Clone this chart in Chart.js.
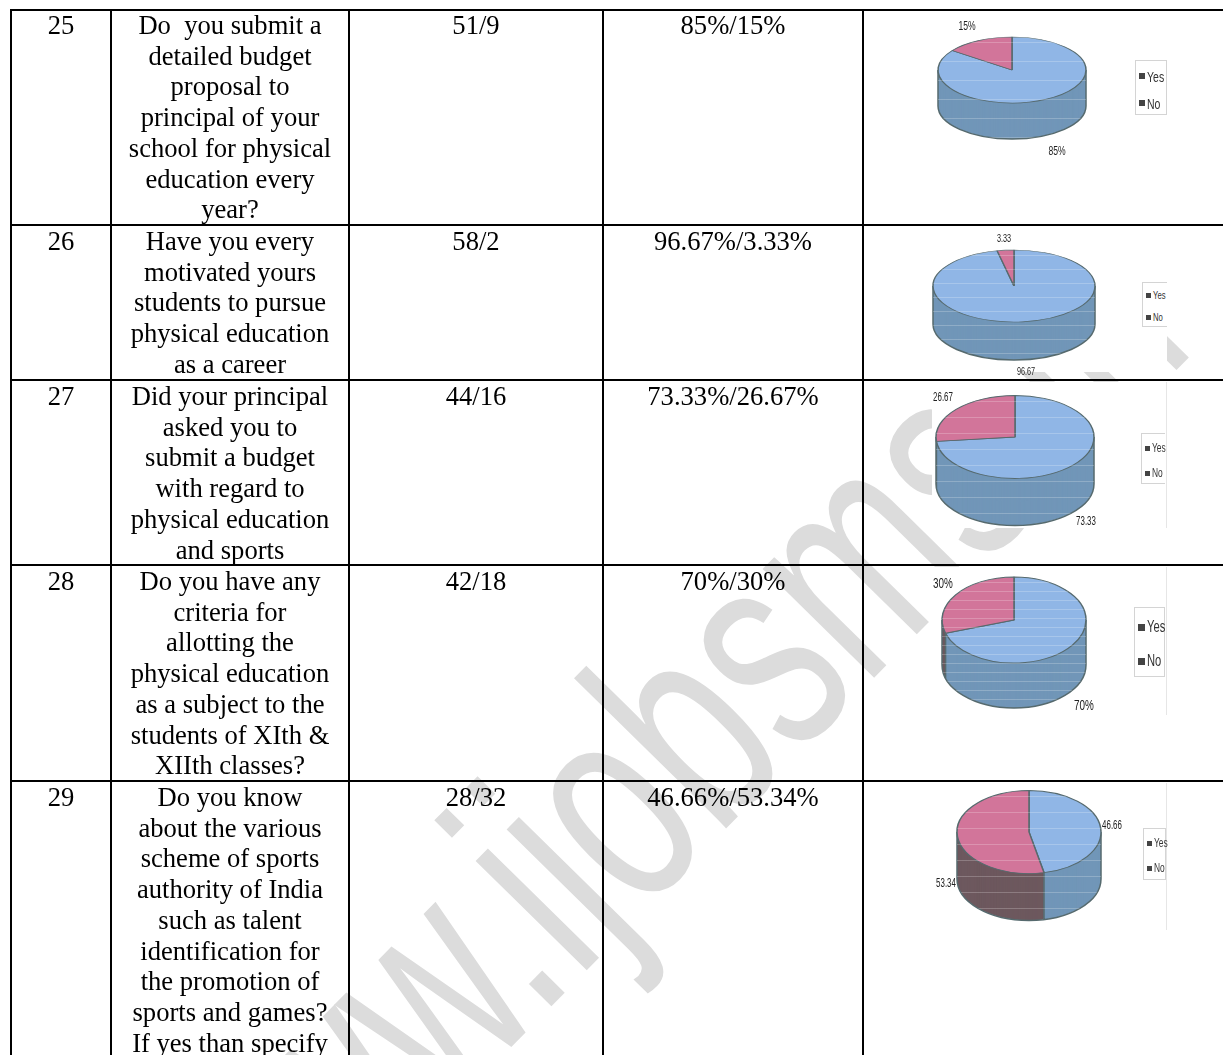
<!DOCTYPE html>
<html>
<head>
<meta charset="utf-8">
<title>Survey table</title>
<script src="https://cdn.jsdelivr.net/npm/chart.js@4/dist/chart.umd.min.js"></script>
<style>
html, body { margin: 0; padding: 0; background: #fff; }
body { position: relative; width: 1223px; height: 1055px; overflow: hidden; }
#watermark { position: absolute; left: 0; top: 0; }
#watermark text { font: 295px "Liberation Sans", sans-serif; fill: #dcdcdc; }
table { position: absolute; left: 10px; top: 9px; border-collapse: collapse; table-layout: fixed; width: 1300px; }
td {
  border: 2px solid #000; padding: 0; vertical-align: top; text-align: center;
  font: 26.6px/30.7px "Liberation Serif", serif; color: #000; white-space: pre;
}
td div { overflow: visible; }
tr:first-child td div { margin-top: -1px; }
.img { position: absolute; background: #fff; }
.img.edge { border-right: 1px solid #e6e6e6; }
canvas { position: absolute; }
.lbl {
  position: absolute; font-family: "Liberation Sans", sans-serif; color: #222;
  white-space: nowrap; transform: translate(-50%, -50%) scaleX(0.66);
}
.leg { position: absolute; border: 1px solid #d4d4d4; background: #fff; box-sizing: border-box; }
.leg.open { border-right: none; }
.leg i { position: absolute; background: #444; }
.leg span {
  position: absolute; font-family: "Liberation Sans", sans-serif; color: #333;
  white-space: nowrap; transform-origin: 0 50%; transform: translateY(-50%) scaleX(0.7);
}
</style>
</head>
<body>
<svg id="watermark" width="1223" height="1055"><text transform="translate(244,1319) rotate(-45.5) scale(0.675,1)">www.ijobsms.in</text></svg>
<div id="charts"></div>
<table id="tbl"></table>
<script>
// table content
var rowNumbers = ["25", "26", "27", "28", "29"];
var questions = [
  "Do  you submit a\ndetailed budget\nproposal to\nprincipal of your\nschool for physical\neducation every\nyear?",
  "Have you every\nmotivated yours\nstudents to pursue\nphysical education\nas a career",
  "Did your principal\nasked you to\nsubmit a budget\nwith regard to\nphysical education\nand sports",
  "Do you have any\ncriteria for\nallotting the\nphysical education\nas a subject to the\nstudents of XIth &\nXIIth classes?",
  "Do you know\nabout the various\nscheme of sports\nauthority of India\nsuch as talent\nidentification for\nthe promotion of\nsports and games?\nIf yes than specify"
];
var counts = ["51/9", "58/2", "44/16", "42/18", "28/32"];
var percents = ["85%/15%", "96.67%/3.33%", "73.33%/26.67%", "70%/30%", "46.66%/53.34%"];

// pie values
var categories = ["Yes", "No"];
var yesValues = [85, 96.67, 73.33, 70, 46.66];
var noValues = [15, 3.33, 26.67, 30, 53.34];
var yesLabels = ["85%", "96.67", "73.33", "70%", "46.66"];
var noLabels = ["15%", "3.33", "26.67", "30%", "53.34"];

// layout
var rowHeights = [215, 155, 185, 216, 300];
var colWidths = [100, 238, 254, 260, 448];
var layouts = [
  { cx: 1012, cy: 70,  rx: 74, ry: 33,   depth: 36, stripe: 19, box: [932, 12, 234, 150],  edge: false, yes: [1057, 150, 13], no: [967, 25, 13],  leg: [1135, 60, 32, 55, 75, 102, 15], open: false },
  { cx: 1014, cy: 286, rx: 81, ry: 36,   depth: 38, stripe: 14, box: [932, 227, 235, 145], edge: false, yes: [1026, 371, 11], no: [1004, 238, 11], leg: [1142, 282, 25, 45, 294, 316, 11], open: true },
  { cx: 1015, cy: 437, rx: 79, ry: 41.5, depth: 47, stripe: 16, box: [932, 382, 234, 146], edge: true,  yes: [1086, 521, 12], no: [943, 397, 12], leg: [1141, 433, 24, 51, 447, 472, 12], open: true },
  { cx: 1014, cy: 620, rx: 72, ry: 43,   depth: 45, stripe: 9,  box: [932, 567, 234, 148], edge: true,  yes: [1084, 704, 15], no: [943, 582, 15], leg: [1134, 607, 31, 70, 626, 660, 16], open: false },
  { cx: 1029, cy: 832, rx: 72, ry: 41.5, depth: 47, stripe: 16, box: [932, 783, 234, 147], edge: true,  yes: [1112, 825, 12], no: [946, 883, 12], leg: [1143, 828, 23, 52, 842, 867, 12], open: false }
];

var topColors = ["#90b6e6", "#d2759a"];
var wallColors = ["#7196b8", "#6d585e"];
var outline = "#566a6e";

// build the table
var tbl = document.getElementById("tbl");
var colgroup = document.createElement("colgroup");
colWidths.forEach(function(w) {
  var c = document.createElement("col");
  c.style.width = w + "px";
  colgroup.appendChild(c);
});
tbl.appendChild(colgroup);
rowNumbers.forEach(function(n, i) {
  var tr = tbl.insertRow();
  tr.style.height = rowHeights[i] + "px";
  [n, questions[i], counts[i], percents[i], ""].forEach(function(t) {
    var inner = document.createElement("div");
    inner.style.height = (rowHeights[i] - 4) + "px";
    inner.textContent = t;
    tr.insertCell().appendChild(inner);
  });
});

function addLabel(parent, text, box, item) {
  var d = document.createElement("div");
  d.className = "lbl";
  d.textContent = text;
  d.style.left = (item[0] - box[0]) + "px";
  d.style.top = (item[1] - box[1]) + "px";
  d.style.fontSize = item[2] + "px";
  parent.appendChild(d);
}

function addLegend(parent, box, layout) {
  var l = layout.leg;
  var d = document.createElement("div");
  d.className = "leg" + (layout.open ? " open" : "");
  d.style.left = (l[0] - box[0]) + "px";
  d.style.top = (l[1] - box[1]) + "px";
  d.style.width = l[2] + "px";
  d.style.height = l[3] + "px";
  categories.forEach(function(name, i) {
    var y = l[4 + i] - l[1];
    var size = Math.round(l[6] * 0.42);
    var m = document.createElement("i");
    m.style.left = "3px";
    m.style.top = (y - size / 2) + "px";
    m.style.width = size + "px";
    m.style.height = size + "px";
    d.appendChild(m);
    var s = document.createElement("span");
    s.textContent = name;
    s.style.fontSize = l[6] + "px";
    s.style.top = y + "px";
    s.style.left = (size + 5) + "px";
    d.appendChild(s);
  });
  parent.appendChild(d);
}

// flatten the pie into a cylinder: walls first, then the library's arcs squashed
var cylinder = {
  id: "cylinder",
  beforeDatasetDraw: function(chart, args) {
    var o = chart.config.options.plugins.cylinder;
    var ctx = chart.ctx;
    var arcs = args.meta.data;
    var cx = arcs[0].x, cy = arcs[0].y;
    var k = o.ry / o.rx;
    ctx.save();
    for (var d = o.depth; d >= 1; d--) {
      arcs.forEach(function(a, i) {
        ctx.save();
        ctx.translate(cx, cy + d);
        ctx.scale(1, k);
        ctx.beginPath();
        ctx.moveTo(0, 0);
        ctx.arc(0, 0, o.rx, a.startAngle, a.endAngle);
        ctx.closePath();
        ctx.fillStyle = wallColors[i];
        ctx.fill();
        ctx.restore();
      });
    }
    // wall outline
    ctx.strokeStyle = outline;
    ctx.lineWidth = 1.5;
    ctx.beginPath();
    ctx.ellipse(cx, cy + o.depth, o.rx, o.ry, 0, 0, Math.PI);
    ctx.moveTo(cx - o.rx, cy);
    ctx.lineTo(cx - o.rx, cy + o.depth);
    ctx.moveTo(cx + o.rx, cy);
    ctx.lineTo(cx + o.rx, cy + o.depth);
    arcs.forEach(function(a) {
      var s = Math.sin(a.endAngle), c = Math.cos(a.endAngle);
      if (s > 0) {
        ctx.moveTo(cx + c * o.rx, cy + s * o.ry);
        ctx.lineTo(cx + c * o.rx, cy + s * o.ry + o.depth);
      }
    });
    ctx.stroke();
    ctx.restore();
    ctx.save();
    ctx.translate(cx, cy);
    ctx.scale(1, k);
    ctx.translate(-cx, -cy);
  },
  afterDatasetDraw: function(chart, args) {
    var o = chart.config.options.plugins.cylinder;
    var ctx = chart.ctx;
    var a = args.meta.data[0];
    ctx.restore();
    // pale scan lines of the printed picture
    ctx.save();
    ctx.beginPath();
    ctx.ellipse(a.x, a.y, o.rx, o.ry, 0, 0, Math.PI * 2);
    ctx.rect(a.x - o.rx, a.y, o.rx * 2, o.depth);
    ctx.ellipse(a.x, a.y + o.depth, o.rx, o.ry, 0, 0, Math.PI * 2);
    ctx.clip("nonzero");
    ctx.strokeStyle = "rgba(255,255,255,0.22)";
    ctx.lineWidth = 1;
    ctx.beginPath();
    for (var y = a.y - o.ry + 5; y < a.y + o.ry + o.depth; y += o.stripe) {
      ctx.moveTo(a.x - o.rx, Math.round(y) + 0.5);
      ctx.lineTo(a.x + o.rx, Math.round(y) + 0.5);
    }
    ctx.stroke();
    ctx.restore();
  }
};

layouts.forEach(function(lay, i) {
  var box = lay.box;
  var wrap = document.createElement("div");
  wrap.className = "img" + (lay.edge ? " edge" : "");
  wrap.style.left = box[0] + "px";
  wrap.style.top = box[1] + "px";
  wrap.style.width = box[2] + "px";
  wrap.style.height = box[3] + "px";
  document.getElementById("charts").appendChild(wrap);

  var half = Math.ceil(Math.max(lay.rx, lay.ry + lay.depth)) + 4;
  var canvas = document.createElement("canvas");
  canvas.width = half * 2;
  canvas.height = half * 2;
  canvas.style.left = (lay.cx - half - box[0]) + "px";
  canvas.style.top = (lay.cy - half - box[1]) + "px";
  wrap.appendChild(canvas);

  new Chart(canvas, {
    type: "pie",
    data: {
      labels: categories,
      datasets: [{
        data: [yesValues[i], noValues[i]],
        backgroundColor: topColors,
        borderColor: outline,
        borderWidth: 1.5,
        radius: lay.rx,
        clip: false
      }]
    },
    options: {
      responsive: false,
      animation: false,
      layout: { padding: 0 },
      plugins: {
        legend: { display: false },
        tooltip: { enabled: false },
        cylinder: { rx: lay.rx, ry: lay.ry, depth: lay.depth, stripe: lay.stripe }
      }
    },
    plugins: [cylinder]
  });

  addLabel(wrap, yesLabels[i], box, lay.yes);
  addLabel(wrap, noLabels[i], box, lay.no);
  addLegend(wrap, box, lay);
});
</script>
</body>
</html>
